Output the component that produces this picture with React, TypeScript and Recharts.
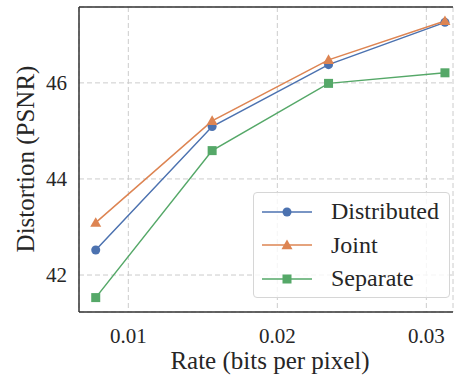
import { LineChart, Line, XAxis, YAxis, CartesianGrid, ReferenceLine } from "recharts";

const rates = [0.0078125, 0.015625, 0.0234375, 0.03125];
const distributed = [42.52, 45.09, 46.38, 47.26];
const joint = [43.09, 45.21, 46.48, 47.29];
const separate = [41.53, 44.59, 45.99, 46.21];
const xTicks = [0.01, 0.02, 0.03];
const yTicks = [42, 44, 46];

const data = rates.map((rate, i) => ({
  rate,
  distributed: distributed[i],
  joint: joint[i],
  separate: separate[i],
}));

const BLUE = "#4C72B0";
const ORANGE = "#DD8452";
const GREEN = "#55A868";
const FONT = "Liberation Serif, DejaVu Serif, serif";
const Y_MAX = 47.58;

type Shape = "circle" | "triangle" | "square";

function marker(shape: Shape, color: string, cx: number, cy: number, key?: string | number) {
  if (shape === "circle") return <circle key={key} cx={cx} cy={cy} r={4.5} fill={color} />;
  if (shape === "triangle") {
    const s = 5.5;
    return (
      <polygon
        key={key}
        points={`${cx},${cy - s} ${cx - s},${cy + s * 0.75} ${cx + s},${cy + s * 0.75}`}
        fill={color}
      />
    );
  }
  return <rect key={key} x={cx - 4.5} y={cy - 4.5} width={9} height={9} fill={color} />;
}

const dotFor = (shape: Shape, color: string) => (props: any) =>
  marker(shape, color, props.cx, props.cy, props.index);

const legendItems: { name: string; color: string; shape: Shape }[] = [
  { name: "Distributed", color: BLUE, shape: "circle" },
  { name: "Joint", color: ORANGE, shape: "triangle" },
  { name: "Separate", color: GREEN, shape: "square" },
];

function ChartLegend() {
  return (
    <div
      style={{
        position: "absolute",
        left: 253,
        top: 192,
        width: 197,
        height: 106,
        boxSizing: "border-box",
        border: "1px solid #d6d6d6",
        borderRadius: 4,
        background: "rgba(255,255,255,0.8)",
        paddingTop: 2,
        fontFamily: FONT,
        fontSize: 24,
        color: "#262626",
      }}
    >
      {legendItems.map((it) => (
        <div key={it.name} style={{ display: "flex", alignItems: "center", height: 33.5 }}>
          <svg width={50} height={14} style={{ marginLeft: 8, marginRight: 19 }}>
            <line x1={0} y1={7} x2={50} y2={7} stroke={it.color} strokeWidth={1.5} />
            {marker(it.shape, it.color, 25, 7)}
          </svg>
          <span>{it.name}</span>
        </div>
      ))}
    </div>
  );
}

const tickStyle = { fontFamily: FONT, fontSize: 21, fill: "#262626" };

export default function App() {
  return (
    <div style={{ position: "absolute", left: 0, top: 0, width: 454, height: 378, background: "#fff" }}>
      <LineChart width={454} height={378} data={data} margin={{ top: 7, right: 1, left: 0, bottom: 0 }}>
        <CartesianGrid stroke="#cccccc" strokeDasharray="5 3" strokeWidth={1} />
        <XAxis
          type="number"
          dataKey="rate"
          domain={[0.00669, 0.03179]}
          ticks={xTicks}
          allowDataOverflow
          height={66}
          tickLine={false}
          tickSize={0}
          tickMargin={11}
          tick={{ ...tickStyle, dy: 5 }}
          tickFormatter={(v: number) => String(v)}
          axisLine={{ stroke: "#333333", strokeWidth: 1.5 }}
          label={{
            content: () => (
              <text x={270} y={369} textAnchor="middle" fontFamily={FONT} fontSize={25} fill="#262626">
                Rate (bits per pixel)
              </text>
            ),
          }}
        />
        <YAxis
          type="number"
          domain={[41.23, Y_MAX]}
          ticks={yTicks}
          allowDataOverflow
          width={79}
          tickLine={false}
          tickSize={0}
          tickMargin={12}
          tick={tickStyle}
          axisLine={{ stroke: "#333333", strokeWidth: 1.5 }}
          label={{
            content: () => (
              <text
                x={25}
                y={159}
                transform="rotate(-90 25 159)"
                textAnchor="middle"
                dominantBaseline="central"
                fontFamily={FONT}
                fontSize={25}
                fill="#262626"
              >
                Distortion (PSNR)
              </text>
            ),
          }}
        />
        <ReferenceLine y={Y_MAX} stroke="#333333" strokeWidth={1.5} />
        <Line
          dataKey="distributed"
          stroke={BLUE}
          strokeWidth={1.5}
          dot={dotFor("circle", BLUE)}
          isAnimationActive={false}
        />
        <Line
          dataKey="joint"
          stroke={ORANGE}
          strokeWidth={1.5}
          dot={dotFor("triangle", ORANGE)}
          isAnimationActive={false}
        />
        <Line
          dataKey="separate"
          stroke={GREEN}
          strokeWidth={1.5}
          dot={dotFor("square", GREEN)}
          isAnimationActive={false}
        />
      </LineChart>
      <ChartLegend />
    </div>
  );
}
